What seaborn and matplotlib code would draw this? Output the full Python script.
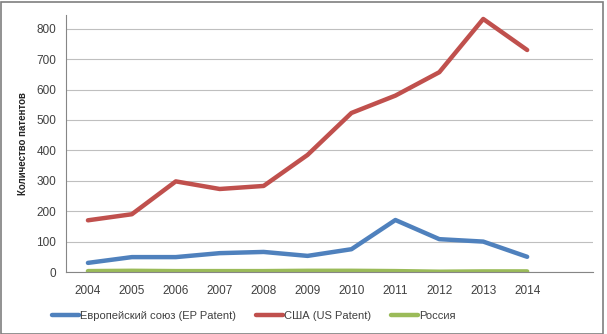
import matplotlib
matplotlib.use("Agg")
import matplotlib.pyplot as plt
import seaborn as sns
import pandas as pd
from matplotlib.patches import Rectangle

years = [2004, 2005, 2006, 2007, 2008, 2009, 2010, 2011, 2012, 2013, 2014]
eu = [30, 49, 49, 62, 66, 53, 75, 171, 108, 100, 50]
us = [170, 190, 298, 273, 283, 385, 523, 580, 657, 832, 730]
ru = [3, 4, 3, 3, 3, 4, 4, 3, 1, 2, 2]
series_names = ["Европейский союз (EP Patent)", "США (US Patent)", "Россия"]
colors = ["#4F81BD", "#C0504D", "#9BBB59"]
yticks = [0, 100, 200, 300, 400, 500, 600, 700, 800]

df = pd.DataFrame({
    "year": years * 3,
    "value": eu + us + ru,
    "series": [series_names[0]] * len(years) + [series_names[1]] * len(years) + [series_names[2]] * len(years),
})

sns.set_style("white")
plt.rcParams["font.family"] = ["Liberation Sans", "DejaVu Sans"]

fig = plt.figure(figsize=(6.07, 3.34), dpi=100)
ax = fig.add_axes([0.1087, 0.1856, 0.977 - 0.1087, 0.955 - 0.1856])

sns.lineplot(data=df, x="year", y="value", hue="series", palette=colors,
             hue_order=series_names, linewidth=3.2, ax=ax, legend=False)

ax.set_xlim(2003.5, 2015.5)
ax.set_ylim(0, 845)
ax.set_yticks(yticks)
ax.set_yticklabels([str(v) for v in yticks], fontsize=8.5, color="#404040")
ax.set_xticks(years)
ax.set_xticklabels([str(y) for y in years], fontsize=8.5, color="#404040")
ax.set_xticks([y - 0.5 for y in years] + [2014.5, 2015.5], minor=True)
ax.tick_params(axis="x", which="major", length=0, pad=9)
ax.tick_params(axis="x", which="minor", length=4, color="#868686", width=0.8, direction="out")
ax.tick_params(axis="y", which="major", length=4, color="#868686", width=0.8, direction="out", pad=3)
ax.set_xlabel("")
ax.set_ylabel("Количество патентов", fontsize=7, fontweight="bold", labelpad=6)

ax.grid(axis="y", color="#BFBFBF", linewidth=0.8)
ax.set_axisbelow(True)
for side in ["top", "right"]:
    ax.spines[side].set_visible(False)
for side in ["left", "bottom"]:
    ax.spines[side].set_color("#868686")
    ax.spines[side].set_linewidth(0.8)

handles = [plt.Line2D([0], [0], color=c, linewidth=3.2) for c in colors]
fig.legend(handles, series_names, loc="center left", bbox_to_anchor=(0.07, 0.055), ncol=3,
           frameon=False, fontsize=8, handlelength=2.4, handletextpad=0.1, columnspacing=1.8,
           labelcolor="#404040")

fig.patches.append(Rectangle((0.002, 0.0), 0.992, 0.995, transform=fig.transFigure,
                             fill=False, edgecolor="#7F7F7F", linewidth=1.2))

fig.savefig("out.png", dpi=100)
